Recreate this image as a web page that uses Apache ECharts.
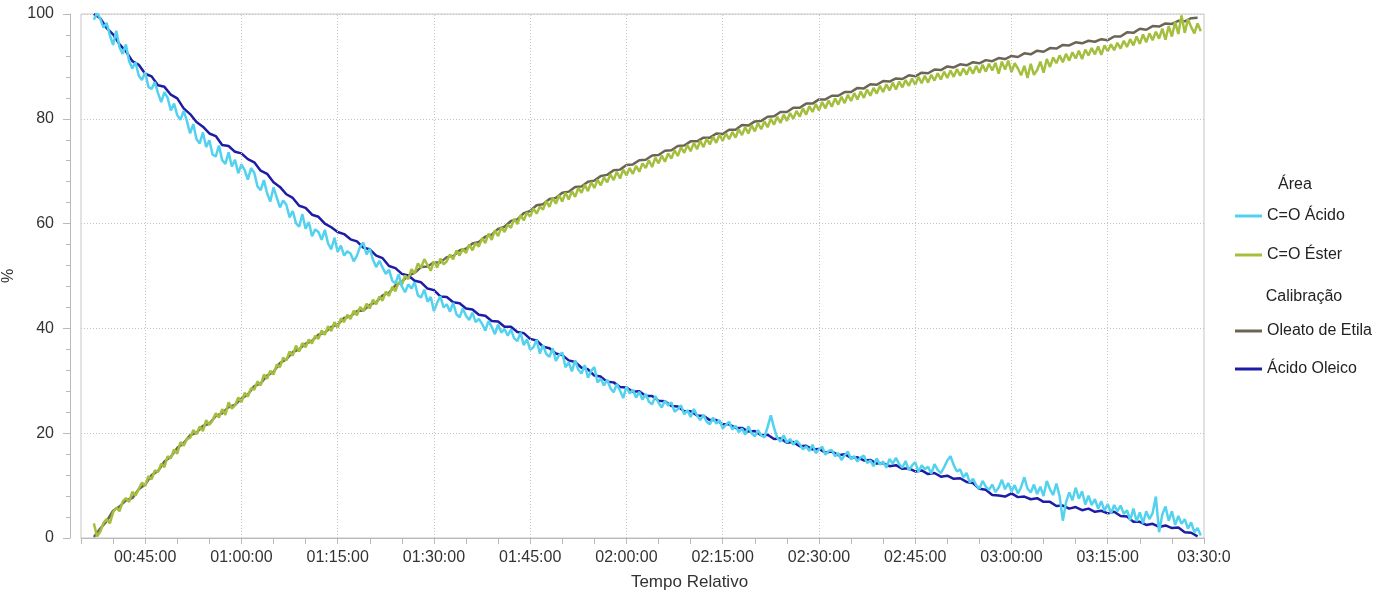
<!DOCTYPE html>
<html>
<head>
<meta charset="utf-8">
<title>Área e Calibração x Tempo Relativo</title>
<script src="https://cdn.jsdelivr.net/npm/echarts@6/dist/echarts.min.js"></script>
<style>
  html, body { margin: 0; padding: 0; background: #ffffff; }
  #grafico { width: 1393px; height: 599px; }
</style>
</head>
<body>
<div id="grafico"></div>
<script>
// Tempo relativo em minutos: primeira leitura e passo de amostragem
const tempoInicialMin = 37;
const passoCalibracaoMin = 1;
const passoAreaMin = 0.5;

// Marcas rotuladas do eixo do tempo (minutos) e seus rótulos
const marcasTempo = [45, 60, 75, 90, 105, 120, 135, 150, 165, 180, 195, 210];
const rotulosTempo = ['00:45:00', '01:00:00', '01:15:00', '01:30:00', '01:45:00', '02:00:00',
  '02:15:00', '02:30:00', '02:45:00', '03:00:00', '03:15:00', '03:30:0'];

// Calibração — Ácido Oleico (%), uma leitura por minuto a partir de 37 min
const acidoOleico = [
  100.0, 99.2, 97.3, 96.1, 94.2, 92.9, 91.0, 90.3, 88.6, 88.1,
  86.4, 86.1, 84.6, 83.9, 82.0, 80.9, 79.4, 78.5, 77.2, 76.7,
  75.0, 74.8, 73.7, 73.4, 72.3, 71.7, 70.1, 69.5, 67.9, 67.0,
  65.6, 64.9, 63.4, 63.0, 61.7, 61.3, 60.0, 59.3, 58.4, 58.0,
  57.0, 56.6, 55.4, 55.1, 53.9, 53.4, 51.9, 51.5, 50.4, 50.1,
  49.1, 48.8, 47.6, 47.3, 46.1, 46.0, 45.0, 44.8, 43.8, 43.6,
  42.6, 42.4, 41.4, 41.3, 40.3, 40.3, 39.3, 39.1, 38.0, 37.7,
  36.5, 36.2, 35.2, 34.9, 33.9, 33.6, 32.5, 32.2, 31.0, 30.8,
  29.8, 29.7, 28.8, 28.7, 27.9, 28.0, 27.1, 27.1, 26.2, 26.1,
  25.2, 25.1, 24.2, 24.2, 23.4, 23.3, 22.5, 22.5, 21.7, 21.7,
  21.0, 21.0, 20.3, 20.4, 19.6, 19.7, 18.9, 19.0, 18.2, 18.3,
  17.5, 17.6, 16.9, 17.0, 16.3, 16.5, 15.8, 16.0, 15.3, 15.4,
  14.8, 14.9, 14.2, 14.3, 13.7, 13.9, 13.2, 13.3, 12.7, 12.9,
  12.2, 12.4, 11.7, 11.9, 11.3, 11.4, 10.7, 10.5, 9.4, 9.2,
  8.2, 8.1, 7.9, 8.5, 7.8, 7.9, 7.4, 7.6, 6.9, 6.9,
  6.1, 6.2, 5.6, 5.9, 5.3, 5.6, 5.0, 5.2, 4.7, 5.0,
  4.2, 4.1, 3.1, 3.1, 2.5, 2.7, 2.1, 2.4, 1.9, 2.0,
  1.1, 1.0, 0.3
];

// Calibração — Oleato de Etila (%), uma leitura por minuto a partir de 37 min
const oleatoDeEtila = [
  0.2, 1.8, 3.2, 5.2, 6.0, 7.2, 7.6, 9.3, 10.2, 12.0,
  12.8, 14.6, 15.5, 17.2, 18.1, 19.6, 20.1, 21.4, 21.8, 23.3,
  23.8, 25.0, 25.4, 26.6, 27.4, 29.0, 29.5, 31.0, 31.7, 33.4,
  34.1, 35.5, 36.0, 37.1, 37.6, 38.8, 39.2, 40.3, 40.7, 42.0,
  42.3, 43.3, 43.4, 44.5, 45.0, 46.3, 46.8, 48.2, 48.9, 50.1,
  50.6, 51.7, 51.8, 52.6, 52.6, 53.6, 53.8, 54.9, 55.2, 56.2,
  56.5, 57.5, 57.9, 59.0, 59.4, 60.5, 60.8, 62.0, 62.4, 63.5,
  63.7, 64.7, 64.9, 65.9, 66.1, 67.0, 67.1, 68.0, 68.2, 69.1,
  69.3, 70.2, 70.3, 71.2, 71.3, 72.1, 72.2, 73.0, 73.1, 73.9,
  74.0, 74.8, 74.9, 75.7, 75.7, 76.4, 76.4, 77.2, 77.1, 77.9,
  77.9, 78.8, 78.7, 79.5, 79.6, 80.4, 80.5, 81.3, 81.3, 82.1,
  82.1, 82.9, 82.9, 83.7, 83.7, 84.4, 84.4, 85.1, 85.1, 85.9,
  85.8, 86.6, 86.5, 87.2, 87.1, 87.7, 87.6, 88.3, 88.1, 88.8,
  88.7, 89.4, 89.3, 90.0, 89.8, 90.4, 90.2, 90.8, 90.6, 91.2,
  91.0, 91.6, 91.4, 92.0, 91.8, 92.5, 92.3, 93.0, 92.8, 93.5,
  93.4, 94.1, 94.0, 94.6, 94.4, 94.9, 94.7, 95.2, 95.0, 95.7,
  95.7, 96.5, 96.4, 97.2, 97.0, 97.7, 97.6, 98.2, 98.1, 98.7,
  98.6, 99.2, 99.3
];

// Área — C=O Ácido (%), uma leitura a cada meio minuto a partir de 37 min
const areaAcido = [
  98.9, 100.2, 99.1, 97.4, 98.3, 95.9, 94.1, 96.8, 93.6, 92.4,
  94.2, 91.0, 89.6, 90.8, 88.2, 87.4, 88.9, 86.1, 85.7, 87.0,
  84.9, 83.2, 85.1, 84.0, 81.6, 82.9, 80.7, 79.8, 81.5, 79.6,
  77.2, 79.0, 76.1, 75.3, 77.4, 74.6, 75.9, 73.2, 72.8, 74.9,
  72.1, 71.4, 73.6, 70.9, 72.2, 69.6, 71.3, 70.2, 68.4, 70.6,
  69.7, 67.1, 66.4, 68.3, 65.8, 64.2, 66.9, 65.0, 63.1, 64.4,
  63.6, 61.2, 62.4, 60.1, 59.4, 61.8, 59.0, 60.3, 57.6, 58.9,
  58.4, 56.9, 58.8, 56.2, 55.1, 57.3, 54.6, 55.8, 53.9, 54.7,
  54.3, 52.8, 53.9, 55.6, 56.4, 54.1, 55.2, 53.1, 51.7, 52.9,
  51.6, 50.4, 51.2, 49.1, 48.6, 50.3, 48.0, 46.9, 48.4, 47.6,
  48.8, 46.3, 45.9, 47.4, 45.1, 46.0, 43.3, 44.9, 46.1, 44.0,
  44.6, 43.2, 44.9, 42.7, 42.1, 43.8, 42.4, 41.6, 43.0, 41.2,
  41.8, 40.9, 39.6, 41.4, 40.3, 38.9, 40.7, 39.2, 39.9, 38.6,
  39.8, 38.1, 37.6, 39.2, 36.8, 37.9, 35.9, 36.4, 37.8, 35.2,
  36.8, 35.1, 34.6, 36.2, 33.8, 34.9, 35.4, 32.6, 33.5, 31.8,
  33.9, 32.1, 31.4, 33.0, 30.6, 31.9, 32.6, 29.7, 30.4, 29.1,
  30.2, 28.6, 27.8, 29.4, 28.1, 26.7, 28.9, 27.6, 28.3, 26.8,
  27.9, 26.4, 27.5, 26.0, 25.5, 27.1, 25.8, 24.9, 26.2, 25.3,
  25.9, 24.1, 24.6, 25.3, 23.6, 24.4, 23.1, 24.6, 23.4, 22.5,
  23.5, 22.2, 21.7, 23.0, 21.8, 22.5, 20.9, 21.6, 22.2, 20.7,
  21.4, 20.2, 20.9, 19.7, 21.3, 20.0, 19.4, 20.6, 19.6, 19.2,
  21.2, 23.4, 21.0, 19.1, 18.4, 19.6, 18.2, 18.9, 17.8, 18.6,
  17.9, 16.9, 17.5, 16.6, 17.8, 16.2, 16.9, 17.4, 15.9, 16.6,
  16.8, 15.6, 16.2, 14.9, 15.8, 16.5, 15.0, 15.6, 14.6, 15.4,
  15.7, 14.3, 14.8, 13.7, 15.2, 14.0, 14.6, 13.4, 15.1, 14.2,
  15.3, 14.1, 13.4, 14.7, 12.9, 13.8, 14.5, 12.6, 13.9, 13.1,
  13.6, 12.3, 14.1, 13.0, 12.4, 13.5, 14.8, 15.6, 13.9, 12.7,
  13.1, 11.6, 12.4, 10.6, 11.3, 10.1, 9.4, 10.9, 9.8, 9.2,
  10.2, 8.8, 9.6, 11.1, 9.3, 10.5, 8.9, 10.1, 8.5, 9.7,
  11.6, 9.4, 8.7, 10.2, 8.4, 9.8, 8.0, 10.9, 9.3, 8.2,
  10.4, 8.0, 3.3, 6.8, 8.7, 7.2, 9.6, 7.5, 8.9, 6.4,
  8.1, 6.3, 7.4, 5.6, 7.0, 5.2, 6.5, 4.7, 6.3, 5.1,
  6.2, 4.6, 5.3, 3.4, 5.6, 3.2, 4.9, 2.8, 5.1, 3.6,
  4.8, 7.9, 1.1, 4.5, 6.0, 3.3, 5.1, 2.5, 4.2, 2.7,
  3.6, 1.8, 3.0, 1.1, 1.9, 0.5
];

// Área — C=O Éster (%), uma leitura a cada meio minuto a partir de 37 min
const areaEster = [
  2.8, 0.3, 1.2, 2.9, 3.6, 2.8, 4.9, 5.8, 5.1, 7.0,
  7.6, 6.9, 8.8, 8.1, 9.4, 10.6, 9.9, 11.8, 11.2, 12.9,
  12.6, 14.2, 13.5, 15.6, 15.2, 16.9, 16.1, 18.3, 17.6, 18.9,
  19.1, 20.6, 19.8, 21.3, 20.4, 22.5, 21.6, 22.4, 23.8, 23.0,
  24.6, 23.5, 25.9, 24.7, 25.3, 26.8, 25.9, 27.7, 27.0, 28.6,
  28.3, 29.9, 29.1, 31.2, 30.4, 31.9, 31.2, 33.1, 32.6, 34.4,
  33.9, 35.6, 34.8, 36.7, 35.6, 37.2, 36.4, 37.9, 37.1, 38.6,
  38.0, 39.6, 38.8, 40.4, 39.5, 41.2, 40.1, 41.9, 41.2, 42.6,
  41.8, 43.4, 42.5, 44.1, 43.3, 44.7, 43.8, 45.5, 44.6, 46.1,
  45.3, 47.0, 46.2, 47.9, 47.1, 48.8, 48.3, 50.1, 49.4, 51.3,
  50.5, 52.4, 51.6, 53.2, 52.1, 51.0, 52.8, 51.6, 53.3, 52.2,
  52.8, 54.1, 53.2, 54.9, 53.9, 55.2, 54.4, 56.0, 54.9, 56.3,
  55.6, 57.2, 56.3, 58.1, 56.9, 58.7, 57.6, 59.3, 58.4, 59.8,
  59.2, 60.9, 59.9, 61.6, 60.6, 62.1, 61.3, 62.9, 61.9, 63.2,
  62.7, 64.3, 63.2, 64.9, 63.8, 65.4, 64.2, 65.9, 64.6, 66.2,
  65.1, 66.8, 65.9, 67.4, 66.2, 67.9, 66.8, 68.4, 67.3, 68.8,
  67.9, 69.4, 68.3, 69.9, 68.6, 70.3, 69.2, 70.6, 69.5, 71.0,
  69.9, 71.5, 70.6, 72.1, 70.8, 72.6, 71.5, 73.0, 71.8, 73.4,
  72.4, 74.0, 72.9, 74.6, 73.5, 75.0, 73.8, 75.4, 74.2, 75.8,
  74.6, 76.2, 75.1, 76.6, 75.4, 77.0, 75.8, 77.2, 76.1, 77.5,
  76.4, 78.0, 76.9, 78.4, 77.2, 78.8, 77.6, 79.2, 78.0, 79.5,
  78.4, 80.0, 78.9, 80.4, 79.2, 80.8, 79.6, 81.1, 80.0, 81.5,
  80.4, 82.0, 80.8, 82.4, 81.3, 82.8, 81.6, 83.2, 82.0, 83.5,
  82.3, 83.9, 82.7, 84.2, 83.0, 84.6, 83.4, 84.9, 83.7, 85.2,
  84.0, 85.6, 84.4, 85.9, 84.8, 86.3, 85.1, 86.6, 85.4, 86.9,
  85.6, 87.1, 86.0, 87.4, 86.3, 87.7, 86.5, 88.0, 86.8, 88.2,
  86.9, 88.4, 87.3, 88.7, 87.5, 89.0, 87.8, 89.2, 88.0, 89.5,
  88.2, 89.6, 88.4, 89.9, 88.6, 90.1, 88.8, 90.3, 89.0, 90.5,
  89.2, 90.7, 88.6, 90.9, 89.4, 91.1, 88.9, 90.6, 89.6, 88.3,
  90.1, 87.8, 90.5, 88.4, 89.3, 90.9, 88.8, 91.4, 89.9, 91.7,
  90.6, 92.1, 90.8, 92.4, 91.1, 92.7, 91.5, 93.0, 91.4, 93.2,
  92.1, 93.5, 92.3, 93.8, 92.2, 94.0, 92.9, 94.2, 93.1, 94.5,
  93.4, 94.9, 93.7, 95.2, 94.0, 95.7, 94.3, 96.1, 94.6, 96.3,
  95.0, 96.6, 95.3, 97.2, 95.1, 97.7, 95.7, 98.5, 96.2, 99.7,
  96.4, 99.0, 97.5, 96.3, 98.2, 96.7
];

// Pares [tempo, valor] para cada série
function comTempo(valores, passo) {
  return valores.map(function (v, i) { return [tempoInicialMin + i * passo, v]; });
}

const fonte = '"Liberation Sans", Arial, sans-serif';
const corTexto = '#333333';
const corEixo = '#b9b9b9';
const corGrade = '#c3c3c3';

const cores = {
  acido: '#52d2ee',
  ester: '#a4bf3e',
  oleato: '#6c6556',
  oleico: '#1d1ca6'
};

const grafico = echarts.init(document.getElementById('grafico'), null, { renderer: 'canvas' });

grafico.setOption({
  animation: false,
  backgroundColor: '#ffffff',
  textStyle: { fontFamily: fonte },
  grid: {
    left: 81, right: 189, top: 14, bottom: 61,
    containLabel: false,
    outerBoundsMode: 'none',
    show: true, borderColor: '#c6c6c6', borderWidth: 1
  },
  xAxis: {
    type: 'value',
    min: 35, max: 210, interval: 5,
    name: 'Tempo Relativo',
    nameLocation: 'middle',
    nameGap: 36,
    nameTextStyle: { fontSize: 17, color: corTexto, fontFamily: fonte, padding: [0, 0, 0, 94] },
    axisLine: { show: true, onZero: false, lineStyle: { color: corEixo, width: 1 } },
    axisTick: { show: true, length: 6, lineStyle: { color: corEixo } },
    axisLabel: {
      color: corTexto, fontSize: 16, fontFamily: fonte, margin: 12,
      showMinLabel: true, showMaxLabel: true, hideOverlap: false,
      formatter: function (v) {
        const k = marcasTempo.indexOf(Math.round(v));
        return (k >= 0 && Math.abs(v - marcasTempo[k]) < 1e-6) ? rotulosTempo[k] : '';
      }
    },
    splitLine: { show: false }
  },
  yAxis: {
    type: 'value',
    min: 0, max: 100, interval: 20,
    offset: 11,
    name: '%',
    nameLocation: 'middle',
    nameGap: 42,
    nameRotate: 90,
    nameTextStyle: { fontSize: 16, color: corTexto, fontFamily: fonte },
    axisLine: { show: true, lineStyle: { color: corEixo, width: 1 } },
    axisTick: { show: true, length: 7, lineStyle: { color: corEixo } },
    minorTick: { show: true, splitNumber: 5, length: 4, lineStyle: { color: corEixo } },
    axisLabel: { color: corTexto, fontSize: 16, fontFamily: fonte, margin: 16 },
    splitLine: { show: true, lineStyle: { color: corGrade, width: 1, type: [1, 2] } }
  },
  legend: [
    {
      orient: 'vertical', left: 1230, top: 201,
      itemWidth: 27, itemHeight: 3, itemGap: 19, icon: 'rect',
      textStyle: { fontSize: 16, color: '#222222', fontFamily: fonte, lineHeight: 20 },
      data: ['C=O Ácido', 'C=O Éster']
    },
    {
      orient: 'vertical', left: 1230, top: 316,
      itemWidth: 27, itemHeight: 3, itemGap: 18, icon: 'rect',
      textStyle: { fontSize: 16, color: '#222222', fontFamily: fonte, lineHeight: 20 },
      data: ['Oleato de Etila', 'Ácido Oleico']
    }
  ],
  graphic: [
    { type: 'text', x: 1295, y: 185,
      style: { text: 'Área', align: 'center', verticalAlign: 'middle', fontSize: 16, fontFamily: fonte, fill: '#222222' } },
    { type: 'text', x: 1304, y: 297,
      style: { text: 'Calibração', align: 'center', verticalAlign: 'middle', fontSize: 16, fontFamily: fonte, fill: '#222222' } }
  ],
  series: [
    {
      // linhas verticais pontilhadas nas marcas de tempo rotuladas
      name: 'grade-tempo', type: 'line', data: [], z: 1, silent: true,
      markLine: {
        silent: true, symbol: 'none', label: { show: false },
        lineStyle: { color: corGrade, width: 1, type: [1, 2] },
        data: marcasTempo.filter(function (t) { return t < 210; }).map(function (t) { return { xAxis: t }; })
      }
    },
    {
      name: 'Oleato de Etila', type: 'line', showSymbol: false, symbol: 'none', z: 2,
      lineStyle: { color: cores.oleato, width: 2.5 }, itemStyle: { color: cores.oleato },
      data: comTempo(oleatoDeEtila, passoCalibracaoMin)
    },
    {
      name: 'Ácido Oleico', type: 'line', showSymbol: false, symbol: 'none', z: 2,
      lineStyle: { color: cores.oleico, width: 2.5 }, itemStyle: { color: cores.oleico },
      data: comTempo(acidoOleico, passoCalibracaoMin)
    },
    {
      name: 'C=O Éster', type: 'line', showSymbol: false, symbol: 'none', z: 3,
      lineStyle: { color: cores.ester, width: 2.5 }, itemStyle: { color: cores.ester },
      data: comTempo(areaEster, passoAreaMin)
    },
    {
      name: 'C=O Ácido', type: 'line', showSymbol: false, symbol: 'none', z: 3,
      lineStyle: { color: cores.acido, width: 2.5 }, itemStyle: { color: cores.acido },
      data: comTempo(areaAcido, passoAreaMin)
    }
  ]
});
</script>
</body>
</html>
